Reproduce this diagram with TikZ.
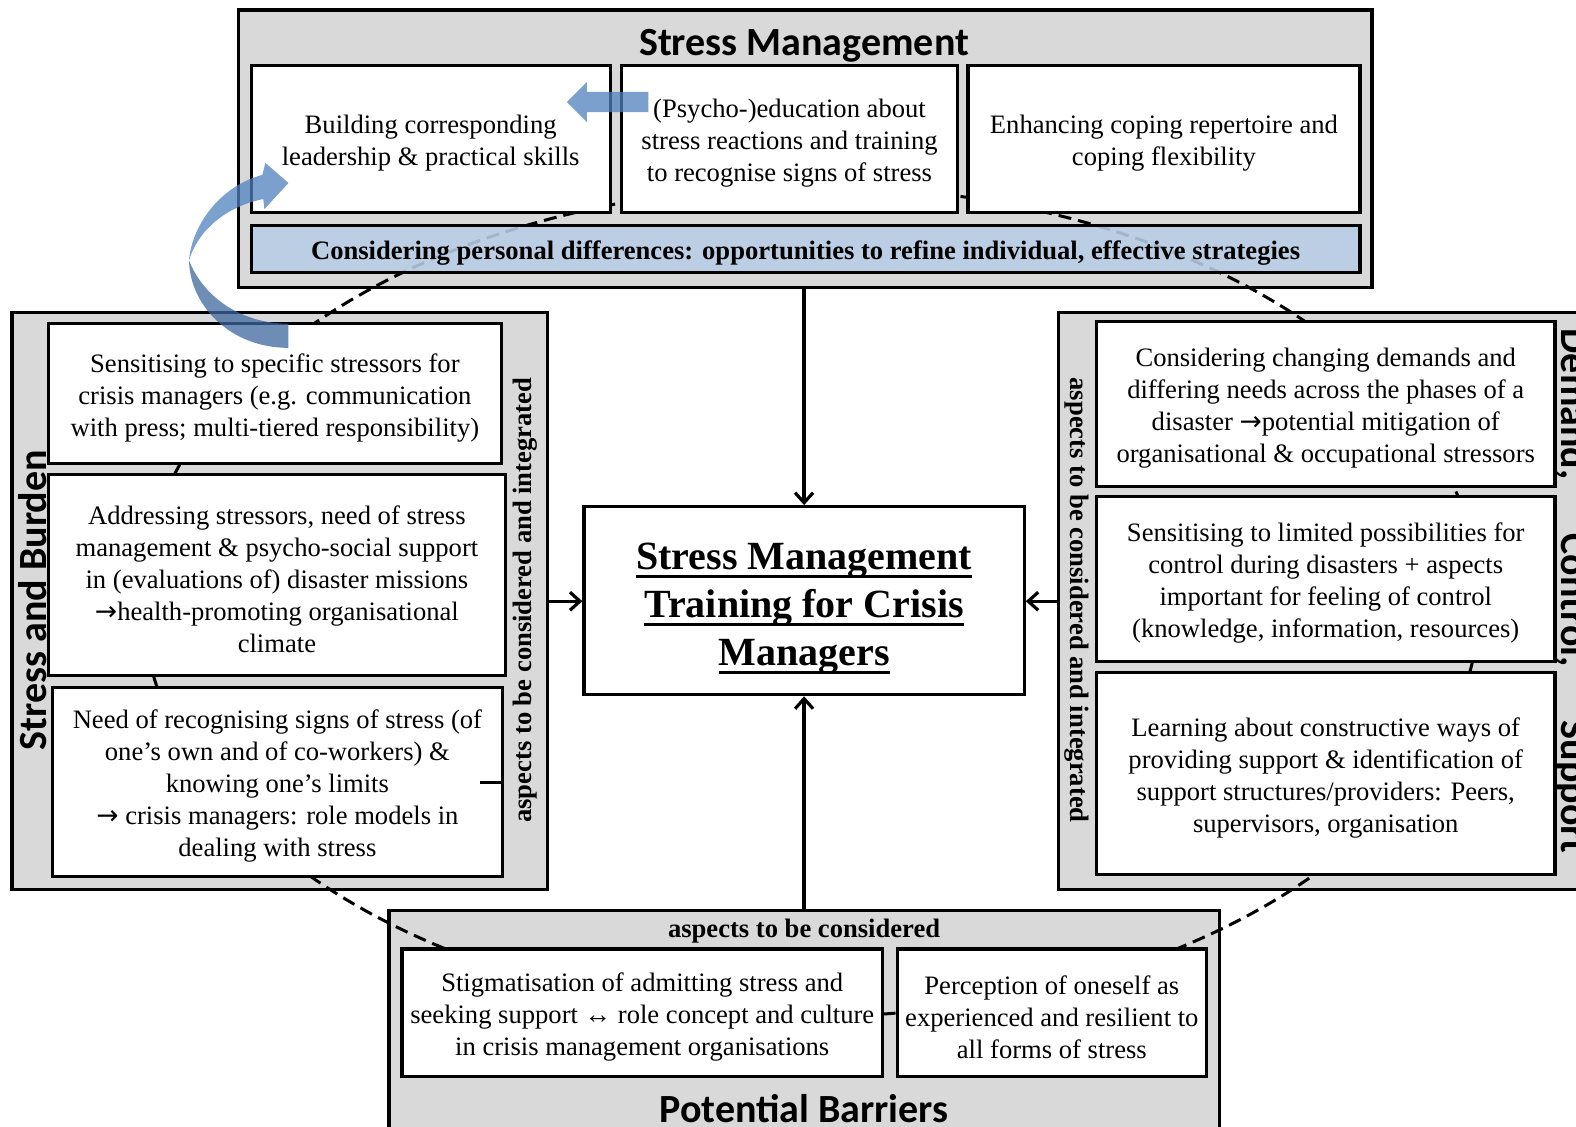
\documentclass[tikz,border=0pt]{standalone}
\usepackage{fontspec}
\setmainfont{Liberation Serif}
\newfontfamily\headfont{Carlito}
\newfontfamily\arrowfont{DejaVu Sans}
\usetikzlibrary{arrows.meta}
\definecolor{panelgray}{RGB}{217,217,217}
\definecolor{barblue}{RGB}{185,205,229}
\definecolor{arrowblue}{RGB}{79,129,189}
\definecolor{arrowback}{RGB}{62,104,158}
\newsavebox\ulbox
\newcommand\ulx[1]{\leavevmode\sbox\ulbox{#1}\rlap{\rule[-4.5pt]{\wd\ulbox}{1.5pt}}\usebox\ulbox}
\newcommand\rarr{{\arrowfont →}}
% invisible props on the first line that settle the text a little lower in its box
\newcommand\bodyprop{\rule{0pt}{13.5pt}}
\newcommand\coreprop{\rule{0pt}{21pt}}
\tikzset{
  wh/.style 2 args={minimum width=#1*0.50255pt, minimum height=#2*0.50268pt},
  panel/.style={draw, line width=1.6pt, fill=panelgray, inner sep=0pt},
  itembox/.style={draw, line width=1.6pt, fill=white, inner sep=0pt, align=center,
    font=\fontsize{13.3pt}{16pt}\selectfont},
  headline/.style={font=\headfont\bfseries\fontsize{20pt}{24pt}\selectfont, inner sep=0pt},
  sidenote/.style={font=\bfseries\fontsize{13.3pt}{16pt}\selectfont, inner sep=0pt},
  link/.style={line width=1.6pt, -{Straight Barb[length=5pt,width=9pt]}},
  ring/.style={line width=1.5pt, dash pattern=on 6.5pt off 3.5pt},
  blockarrow/.style={fill=arrowblue, fill opacity=0.75, draw=none},
}
\begin{document}
\begin{tikzpicture}[x=0.50255pt,y=-0.50268pt]
\useasboundingbox (0,0) rectangle (1568,1120);
\clip (0,0) rectangle (1568,1120);

% grey panels
\node[panel, wh={1128}{276}] (smp) at (801,148) {};
\node[panel, wh={533}{574}] (sbp) at (278.5,598) {};
\node[panel, wh={567}{574}] (dcp) at (1336.5,598) {};
\node[panel, wh={826}{234}] (pbp) at (800,1023) {};

% dashed ring linking the four areas (runs over the panels, under the boxes)
\draw[ring] (807,598) ellipse [x radius=334.2pt, y radius=207.6pt];

% panel titles
\node[headline, anchor=base] (smt) at (800,55) {Stress Management};
\node[headline, anchor=base, rotate=90] (sbt) at (46,597) {Stress and Burden};
\node[headline, anchor=base, rotate=-90] (dct) at (1554,588) {Demand,\hspace{27pt}Control,\hspace{27pt}Support};
\node[headline, anchor=base] (pbt) at (800,1116) {Potential Barriers};

% side notes
\node[sidenote, rotate=90] (sbn) at (523,597) {aspects to be considered and integrated};
\node[sidenote, rotate=-90] (dcn) at (1071,597) {aspects to be considered and integrated};
\node[sidenote] (pbn) at (800,926) {aspects to be considered};

% stress management
\node[itembox, wh={357}{146}] (lead) at (428.5,138) {\bodyprop Building corresponding\\leadership \& practical skills};
\node[itembox, wh={335}{146}] (edu) at (785.5,138) {\bodyprop(Psycho-)education about\\stress reactions and training\\to recognise signs of stress};
\node[itembox, wh={390}{146}] (cope) at (1158,138) {\bodyprop Enhancing coping repertoire and\\coping flexibility};
\node[itembox, wh={1103}{47}, fill=barblue, fill opacity=0.88, text opacity=1,
  font=\bfseries\fontsize{13.3pt}{16pt}\selectfont] (pers) at (801.5,247.5)
  {\bodyprop Considering personal differences: opportunities to refine individual, effective strategies};

% stress and burden
\node[itembox, wh={451}{139}] (sens) at (273.5,391.5) {\bodyprop Sensitising to specific stressors for\\crisis managers (e.g. communication\\with press; multi-tiered responsibility)};
\node[itembox, wh={455}{200}] (addr) at (275.5,572) {\bodyprop Addressing stressors, need of stress\\management \& psycho-social support\\in (evaluations of) disaster missions\\\rarr health-promoting organisational\\climate};
\node[itembox, wh={448}{188}] (recog) at (276,778) {\bodyprop Need of recognising signs of stress (of\\one’s own and of co-workers) \&\\knowing one’s limits\\\rarr\ crisis managers: role models in\\dealing with stress};

% demand, control, support
\node[itembox, wh={456}{164}] (dem) at (1319,402) {\bodyprop Considering changing demands and\\differing needs across the phases of a\\disaster \rarr potential mitigation of\\organisational \& occupational stressors};
\node[itembox, wh={456}{164}] (ctl) at (1319,576) {\bodyprop Sensitising to limited possibilities for\\control during disasters + aspects\\important for feeling of control\\(knowledge, information, resources)};
\node[itembox, wh={456}{201}] (sup) at (1319,769.5) {\bodyprop Learning about constructive ways of\\providing support \& identification of\\support structures/providers: Peers,\\supervisors, organisation};

% potential barriers
\node[itembox, wh={478}{127}] (stig) at (639,1007.5) {\bodyprop Stigmatisation of admitting stress and\\seeking support ↔ role concept and culture\\in crisis management organisations};
\node[itembox, wh={307}{127}] (perc) at (1046.5,1007.5) {\bodyprop Perception of oneself as\\experienced and resilient to\\all forms of stress};

% central training box
\node[itembox, wh={438}{187}, font=\bfseries\fontsize{20pt}{24pt}\selectfont] (core) at (800,597.5)
  {\coreprop\ulx{Stress Management}\\\ulx{Training for Crisis}\\\ulx{Managers}};

% connectors into the centre
\draw[link] (smp.south -| core.north) -- (core.north);
\draw[link] (pbp.north) -- (core.south);
\draw[link] (sbp.east) -- (sbp.east -| core.west);
\draw[link] (dcp.west) -- (dcp.west -| core.east);

% short join at the right edge of the lowest left box
\coordinate (stub) at (478,778);
\draw[line width=1.6pt] (stub) -- (stub -| recog.east);

% blue block arrows
\fill[blockarrow] (645,91.5) -- (584,91.5) -- (584,81.5) -- (564,101.5) -- (584,121.5)
  -- (584,111.5) -- (645,111.5) -- cycle;
\fill[blockarrow, fill=arrowback] (188,259) .. controls (189,304) and (229,346) .. (287,346)
  -- (287,322) .. controls (244,322) and (204,299) .. (188,259) -- cycle;
\fill[blockarrow] (188,259) .. controls (191,224) and (219,185) .. (261,174)
  -- (264,162) -- (287,182) -- (263,208) -- (262,198)
  .. controls (231,204) and (199,224) .. (188,259) -- cycle;
\end{tikzpicture}
\end{document}
